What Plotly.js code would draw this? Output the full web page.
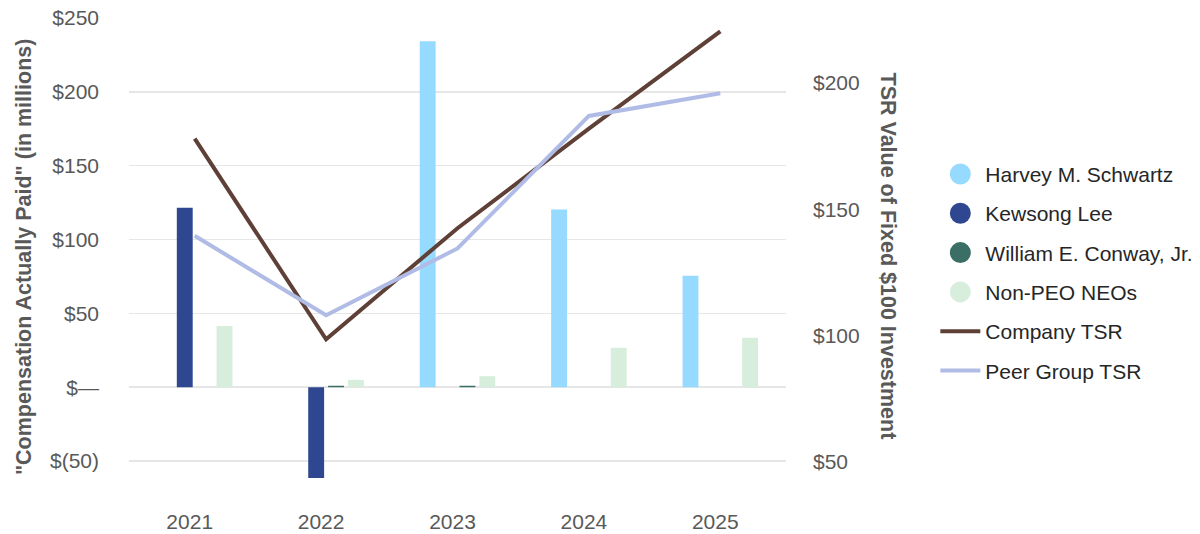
<!DOCTYPE html>
<html>
<head>
<meta charset="utf-8">
<script src="https://cdn.plot.ly/plotly-3.0.1.min.js"></script>
<style>html,body{margin:0;padding:0;background:#fff;}#chart{width:1200px;height:534px;}</style>
</head>
<body>
<div id="chart"></div>
<script>
const years = ['2021', '2022', '2023', '2024', '2025'];
const schwartz = [null, null, 234.2, 120.3, 75.5];
const lee = [121.6, -61.4, null, null, null];
const conway = [null, 1, 1, null, null];
const nonPeo = [41.4, 5.0, 7.5, 26.7, 33.5];
const companyTSR = [178, 98.5, 142.5, 182, 220.5];
const peerTSR = [139.5, 108, 134.5, 187, 196];
const leftTickVals = [-50, 0, 50, 100, 150, 200, 250];
const leftTickText = ['$(50)', '$\u2014', '$50', '$100', '$150', '$200', '$250'];
const rightTickVals = [50, 100, 150, 200];
const rightTickText = ['$50', '$100', '$150', '$200'];

const names = ['Harvey M. Schwartz', 'Kewsong Lee', 'William E. Conway, Jr.', 'Non-PEO NEOs', 'Company TSR', 'Peer Group TSR'];
const colors = ['#97DAFF', '#2E4790', '#3B6E64', '#D8EEDD', '#5E4037', '#B0BCE6'];
const barSeries = [schwartz, lee, conway, nonPeo];

const data = [];
// legend-only circle entries
barSeries.forEach((s, i) => {
  data.push({
    type: 'scatter', mode: 'markers', x: [null], y: [null], yaxis: 'y2',
    name: names[i], legendgroup: 'g' + i, hoverinfo: 'skip',
    marker: {symbol: 'circle', size: 16, color: colors[i], line: {color: colors[i], width: 5}}
  });
});
// bars
barSeries.forEach((s, i) => {
  data.push({
    type: 'bar', x: years, y: s, name: names[i], showlegend: false,
    marker: {color: colors[i], line: {width: 0}}
  });
});
// TSR lines
data.push({type: 'scatter', mode: 'lines', x: years, y: companyTSR, yaxis: 'y2', name: names[4], legendgroup: 'g4',
  line: {color: colors[4], width: 4}});
data.push({type: 'scatter', mode: 'lines', x: years, y: peerTSR, yaxis: 'y2', name: names[5], legendgroup: 'g5',
  line: {color: colors[5], width: 4}});

const tickFont = {family: 'Liberation Sans, Arial, sans-serif', size: 21, color: '#595959'};
const titleFont = {family: 'Liberation Sans, Arial, sans-serif', size: 21.5, color: '#595959', weight: 'bold'};

const layout = {
  width: 1200, height: 534,
  margin: {l: 129, r: 413.5, t: 18.3, b: 36.4, autoexpand: false},
  paper_bgcolor: '#fff', plot_bgcolor: '#fff',
  barmode: 'group', bargap: 0.395, bargroupgap: 0.2,
  showlegend: true,
  legend: {
    x: 1.2273, xanchor: 'left', y: 0.717, yanchor: 'top',
    font: {family: 'Liberation Sans, Arial, sans-serif', size: 21, color: '#262626'},
    tracegroupgap: 9, itemwidth: 40, traceorder: 'grouped'
  },
  xaxis: {
    type: 'category', categoryorder: 'array', categoryarray: years,
    showgrid: false, zeroline: false, showline: false, ticks: '',
    tickfont: tickFont, ticklabelstandoff: 9, ticklabelshift: -5, fixedrange: true
  },
  yaxis: {
    range: [-75, 250], tickvals: leftTickVals, ticktext: leftTickText,
    showgrid: true, gridcolor: '#E6E6E6', gridwidth: 1.5, zeroline: false, showline: false, ticks: '',
    tickfont: tickFont, ticklabelstandoff: 29
  },
  yaxis2: {
    overlaying: 'y', side: 'right', range: [35.6, 225.8],
    tickvals: rightTickVals, ticktext: rightTickText,
    showgrid: false, zeroline: false, showline: false, ticks: '',
    tickfont: tickFont, ticklabelstandoff: 26
  },
  annotations: [
    {text: '"Compensation Actually Paid" (in millions)', textangle: -90, xref: 'paper', yref: 'paper',
     x: -0.1597, y: 0.502, xanchor: 'center', yanchor: 'middle', showarrow: false, font: titleFont},
    {text: 'TSR Value of Fixed $100 Investment', textangle: 90, xref: 'paper', yref: 'paper',
     x: 1.1554, y: 0.505, xanchor: 'center', yanchor: 'middle', showarrow: false, font: titleFont}
  ]
};

Plotly.newPlot('chart', data, layout, {displayModeBar: false, staticPlot: true});
</script>
</body>
</html>
